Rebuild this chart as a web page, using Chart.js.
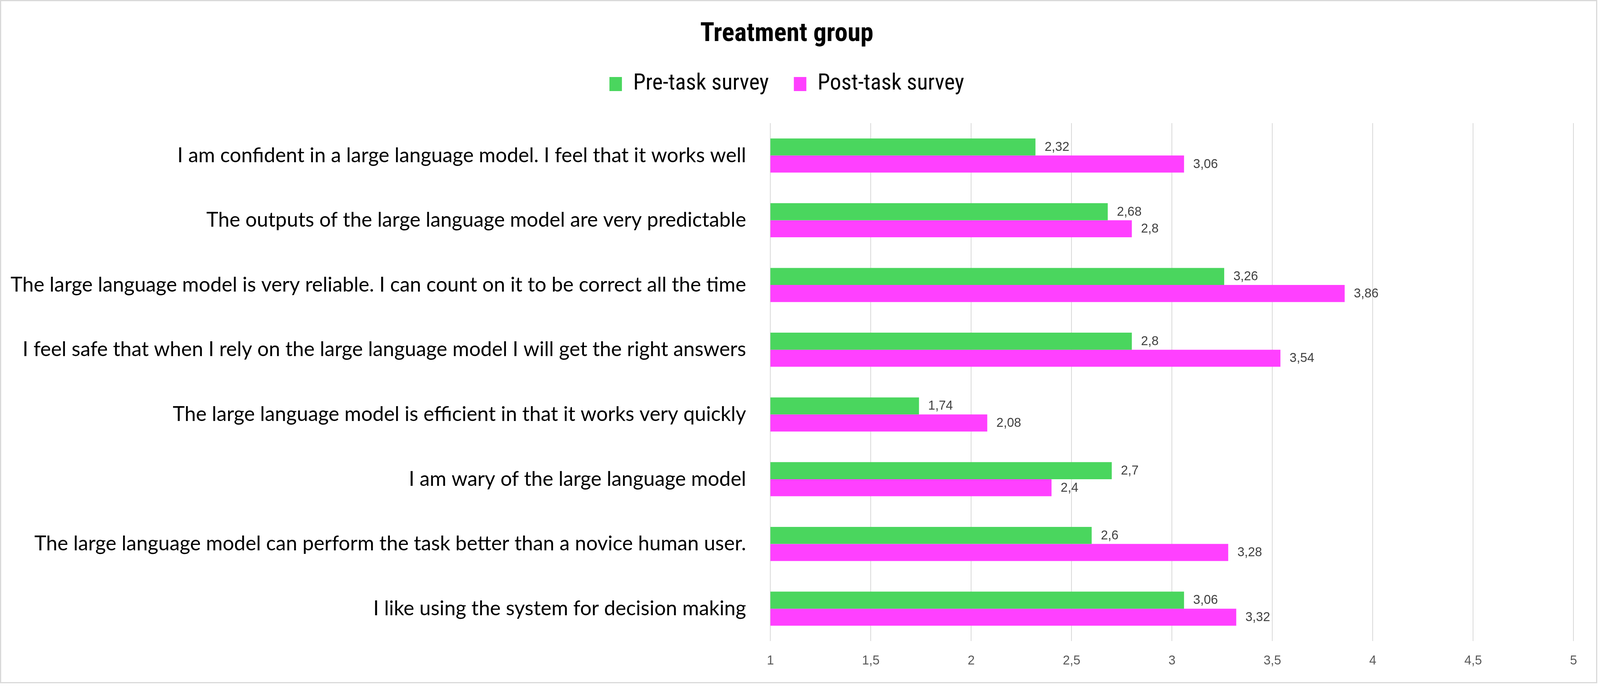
<!DOCTYPE html>
<html>
<head>
<meta charset="utf-8">
<script src="https://cdn.jsdelivr.net/npm/chart.js@4/dist/chart.umd.min.js"></script>
<style>
  html, body { margin: 0; padding: 0; background: #ffffff; overflow: hidden; }
  #c { position: absolute; left: 0; top: 0; }
  #frame { position: absolute; left: 0; top: 0; box-sizing: border-box; border: 3px solid #d9d9d9; pointer-events: none; }
</style>
</head>
<body>
<canvas id="c"></canvas>
<div id="frame"></div>
<script>
const chartTitle = "Treatment group";
const categories = [
  "I am confident in a large language model. I feel that it works well",
  "The outputs of the large language model are very predictable",
  "The large language model is very reliable. I can count on it to be correct all the time",
  "I feel safe that when I rely on the large language model I will get the right answers",
  "The large language model is efficient in that it works very quickly",
  "I am wary of the large language model",
  "The large language model can perform the task better than a novice human user.",
  "I like using the system for decision making"
];
const seriesNames = ["Pre-task survey", "Post-task survey"];
const preTask = [2.32, 2.68, 3.26, 2.8, 1.74, 2.7, 2.6, 3.06];
const postTask = [3.06, 2.8, 3.86, 3.54, 2.08, 2.4, 3.28, 3.32];
const axisMin = 1;
const axisMax = 5;
const axisStep = 0.5;

const fmt = v => String(Math.round(v * 100) / 100).replace('.', ',');

// Reference geometry is 4542 x 1755; the viewport may be capped narrower.
const REF_W = 4542, REF_H = 1755;
const W = window.innerWidth || REF_W, H = window.innerHeight || REF_H;
const kx = W / REF_W, ky = H / REF_H;

const canvas = document.getElementById('c');
canvas.width = W; canvas.height = H;
canvas.style.width = W + 'px'; canvas.style.height = H + 'px';
const frame = document.getElementById('frame');
frame.style.width = Math.round(4534 * kx) + 'px';
frame.style.height = Math.round(1748 * ky) + 'px';

const mctx = document.createElement('canvas').getContext('2d');
function fitSize(text, family, weight, target) {
  mctx.font = weight + ' 100px ' + family;
  return Math.round(1000 * target / mctx.measureText(text).width) / 10;
}
const FAM_TITLE = '"Roboto Condensed", "Liberation Sans", sans-serif';
const FAM_LABEL = 'Lato, "Liberation Sans", sans-serif';
const FAM_NUM = '"Liberation Sans", Arial, sans-serif';

const titleSize = fitSize(chartTitle, FAM_TITLE, 'bold', 492 * kx);
const legendSize = fitSize(seriesNames[0], FAM_TITLE, 'normal', 385 * kx);
const labelSize = fitSize(categories[2], FAM_LABEL, 'normal', 2088 * kx);
const numSize = Math.round(36 * kx * 10) / 10;

const PLOT_LEFT = 2187 * kx, PLOT_RIGHT = 4467 * kx, PLOT_TOP = 315 * ky, PLOT_BOTTOM = 1640 * ky;
const TITLE_CY = 88 * ky, LEGEND_CY = 215 * ky;

const boxW = Math.round(35 * kx), boxH = Math.round(36 * ky);
const legendItemH = Math.max(legendSize, boxH);
const legendPad = Math.max(10, Math.round(83 * kx - (legendSize / 2 - 20 * kx)));
const titleLH = 0.6;
const titlePadTop = TITLE_CY - titleSize * titleLH / 2;
const titleBottomNoPad = TITLE_CY + titleSize * titleLH / 2;
const titlePadBottom = Math.max(0, LEGEND_CY - legendPad - legendItemH / 2 - titleBottomNoPad);

const valueLabels = {
  id: 'valueLabels',
  afterDatasetsDraw(chart) {
    const ctx = chart.ctx;
    ctx.save();
    ctx.font = numSize + 'px ' + FAM_NUM;
    ctx.fillStyle = '#404040';
    ctx.textAlign = 'left';
    ctx.textBaseline = 'middle';
    chart.data.datasets.forEach((ds, di) => {
      const meta = chart.getDatasetMeta(di);
      meta.data.forEach((el, i) => {
        ctx.fillText(fmt(ds.data[i]), el.x + 26 * kx, el.y + 1);
      });
    });
    ctx.restore();
  }
};

new Chart(canvas, {
  type: 'bar',
  data: {
    labels: categories,
    datasets: [
      { label: seriesNames[0], data: preTask, backgroundColor: '#4AD65E', borderWidth: 0 },
      { label: seriesNames[1], data: postTask, backgroundColor: '#FF40FF', borderWidth: 0 }
    ]
  },
  options: {
    indexAxis: 'y',
    responsive: false,
    animation: false,
    devicePixelRatio: 1,
    categoryPercentage: 0.527,
    barPercentage: 1.0,
    layout: { padding: { top: 0, left: 0, bottom: 0, right: W - PLOT_RIGHT } },
    plugins: {
      title: {
        display: true,
        text: chartTitle,
        color: '#000000',
        font: { family: FAM_TITLE, size: titleSize, weight: 'bold', lineHeight: titleLH },
        padding: { top: titlePadTop, bottom: titlePadBottom }
      },
      legend: {
        display: true,
        position: 'top',
        labels: {
          color: '#000000',
          font: { family: FAM_TITLE, size: legendSize },
          boxWidth: boxW,
          boxHeight: boxH,
          padding: legendPad
        }
      },
      tooltip: { enabled: false }
    },
    scales: {
      x: {
        type: 'linear',
        position: 'bottom',
        min: axisMin,
        max: axisMax,
        ticks: {
          stepSize: axisStep,
          color: '#595959',
          font: { family: FAM_NUM, size: numSize },
          padding: 32 * ky,
          callback: v => fmt(v)
        },
        grid: { color: '#d9d9d9', lineWidth: 2, drawTicks: false },
        border: { display: false },
        afterFit(s) { s.height = H - PLOT_BOTTOM; }
      },
      x2: {
        type: 'linear',
        position: 'top',
        display: true,
        min: axisMin,
        max: axisMax,
        grid: { display: false, drawTicks: false },
        ticks: { display: false },
        border: { display: false },
        afterFit(s) {
          const ch = s.chart;
          const th = ch.titleBlock ? ch.titleBlock.height || 0 : 0;
          const lh = ch.legend ? ch.legend.height || 0 : 0;
          s.height = Math.max(0, PLOT_TOP - th - lh);
        }
      },
      y: {
        type: 'category',
        ticks: {
          color: '#000000',
          font: { family: FAM_LABEL, size: labelSize },
          padding: 69 * kx,
          autoSkip: false
        },
        grid: { display: false, drawTicks: false },
        border: { display: false },
        afterFit(s) { s.width = PLOT_LEFT; }
      }
    }
  },
  plugins: [valueLabels]
});
</script>
</body>
</html>
